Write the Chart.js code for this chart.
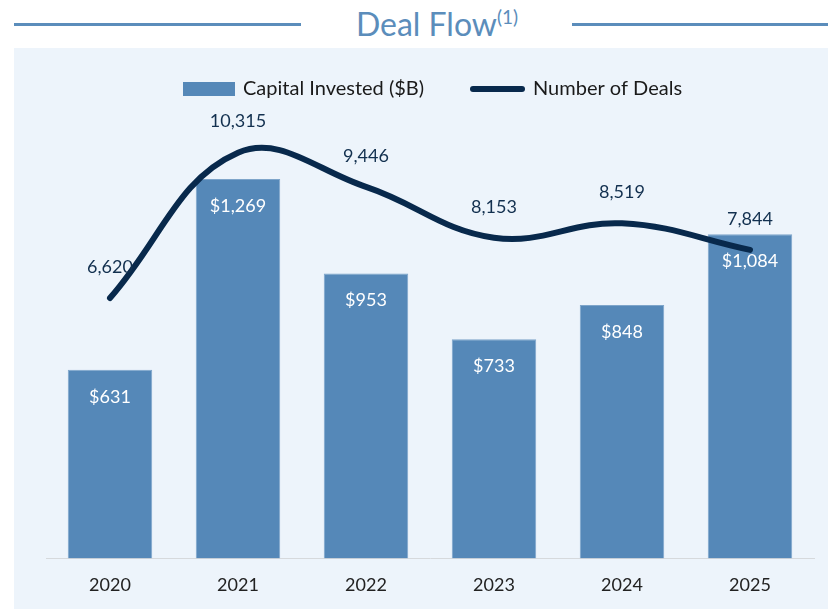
<!DOCTYPE html>
<html>
<head>
<meta charset="utf-8">
<script src="https://cdn.jsdelivr.net/npm/chart.js@4.4.1/dist/chart.umd.min.js"></script>
<style>
    html, body { margin: 0; padding: 0; background: #ffffff; }
    body { width: 828px; height: 609px; position: relative; overflow: hidden; font-family: Lato, sans-serif; }
    .title-line { position: absolute; top: 23px; height: 3px; background: #5b8dbb; }
    .title {
        position: absolute; top: 1px; left: 0; width: 874px; text-align: center;
        font-size: 32px; font-weight: 400; line-height: 46px; color: #5b8dbb;
    }
    .title sup { font-size: 19px; vertical-align: 12px; line-height: 0; }
    .panel { position: absolute; left: 14px; top: 48px; width: 814px; height: 561px; background: #edf4fb; }
    #chart { position: absolute; left: 0; top: 0; }
</style>
</head>
<body>
<div class="title-line" style="left:14px; width:287px;"></div>
<div class="title-line" style="left:572px; width:256px;"></div>
<div class="title">Deal Flow<sup>(1)</sup></div>
<div class="panel"></div>
<canvas id="chart" width="828" height="626"></canvas>
<script>
// Deal flow data
const years = ['2020', '2021', '2022', '2023', '2024', '2025'];
const capitalInvested = [631, 1269, 953, 733, 848, 1084];   // $B
const numberOfDeals = [6620, 10315, 9446, 8153, 8519, 7844];

const BAR_COLOR = '#5588b8';
const LINE_COLOR = '#08294c';
const FONT = 'Lato, sans-serif';

// Legend drawn at the top of the panel
const legendPlugin = {
    id: 'dealLegend',
    afterDraw(chart) {
        const ctx = chart.ctx;
        ctx.save();
        ctx.font = '20px ' + FONT;
        ctx.textBaseline = 'middle';
        ctx.textAlign = 'left';

        ctx.fillStyle = BAR_COLOR;
        ctx.fillRect(183, 82, 52, 14);
        ctx.fillStyle = '#1a1a1a';
        ctx.fillText('Capital Invested ($B)', 243, 89);

        ctx.strokeStyle = LINE_COLOR;
        ctx.lineWidth = 6;
        ctx.lineCap = 'round';
        ctx.beginPath();
        ctx.moveTo(473, 89);
        ctx.lineTo(522, 89);
        ctx.stroke();
        ctx.fillStyle = '#1a1a1a';
        ctx.fillText('Number of Deals', 533, 89);
        ctx.restore();
    }
};

// Value labels: inside the bars and above the line
const valueLabels = {
    id: 'valueLabels',
    afterDatasetsDraw(chart) {
        const ctx = chart.ctx;
        ctx.save();
        ctx.font = '18px ' + FONT;
        ctx.textAlign = 'center';
        ctx.textBaseline = 'middle';

        const barMeta = chart.getDatasetMeta(0);
        barMeta.data.forEach((bar, i) => {
            ctx.fillStyle = '#ffffff';
            ctx.fillText('$' + capitalInvested[i].toLocaleString('en-US'), bar.x, bar.y + 27);
        });

        const lineMeta = chart.getDatasetMeta(1);
        lineMeta.data.forEach((pt, i) => {
            ctx.fillStyle = '#12304f';
            ctx.fillText(numberOfDeals[i].toLocaleString('en-US'), pt.x, pt.y - 31);
        });
        ctx.restore();
    }
};

new Chart(document.getElementById('chart'), {
    type: 'bar',
    data: {
        labels: years,
        datasets: [
            {
                label: 'Capital Invested ($B)',
                data: capitalInvested,
                backgroundColor: BAR_COLOR,
                borderColor: '#7ea5ca',
                borderWidth: 1,
                barPercentage: 0.66,
                categoryPercentage: 1,
                yAxisID: 'y',
                order: 1
            },
            {
                type: 'line',
                label: 'Number of Deals',
                data: numberOfDeals,
                borderColor: LINE_COLOR,
                borderWidth: 6,
                borderCapStyle: 'round',
                tension: 0.4,
                pointRadius: 0,
                clip: false,
                yAxisID: 'y1',
                order: 0
            }
        ]
    },
    options: {
        responsive: false,
        animation: false,
        layout: { padding: { left: 46, right: 14, top: 110, bottom: 14 } },
        plugins: {
            legend: { display: false },
            tooltip: { enabled: false }
        },
        scales: {
            x: {
                grid: { display: false, drawTicks: false },
                border: { display: true, color: '#d6d9dc', width: 1 },
                ticks: { color: '#222222', font: { family: FONT, size: 18 }, padding: 16 }
            },
            y: { display: false, min: 0, max: 1500 },
            y1: { display: false, min: 0, max: 11400 }
        }
    },
    plugins: [legendPlugin, valueLabels]
});
</script>
</body>
</html>
